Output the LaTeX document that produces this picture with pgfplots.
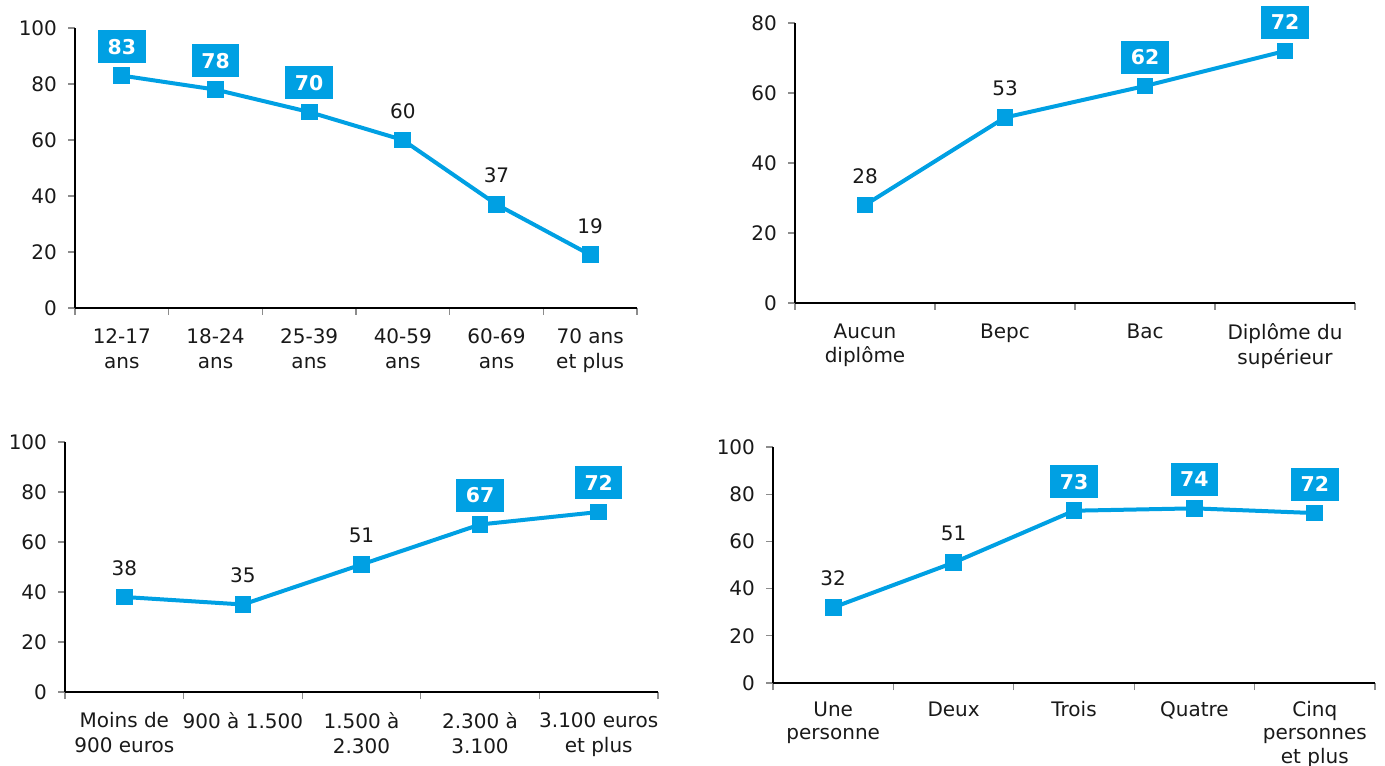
\documentclass[border=0pt]{standalone}
\usepackage{pgfplots}
\pgfplotsset{compat=1.18}
\usepackage{fontspec}
\setmainfont{DejaVu Sans}
\definecolor{cblue}{RGB}{0,160,227}
\definecolor{tickgray}{RGB}{140,140,140}
\definecolor{txt}{RGB}{25,25,25}

\pgfplotsset{
  panel/.style={
    scale only axis,
    anchor=south west,
    clip=false,
    axis x line=bottom, axis y line=left,
    axis line style={-, black, line width=0.6pt},
    /pgf/number format/assume math mode=true,
    xmin=0.5, xmax=#1+0.5, ymin=0,
    tick align=outside,
    major tick length=3.5pt,
    minor tick length=3.5pt,
    major x tick style={draw=none},
    minor x tick style={draw=tickgray, line width=0.6pt},
    y tick style={draw=tickgray, line width=0.6pt},
    minor xtick={0.5,1.5,...,#1.5},
    xtick={1,...,#1},
    ticklabel style={text=txt, font=\fontsize{10}{12.4}\selectfont},
    xticklabel style={align=center, anchor=north, yshift=-3.2pt},
    yticklabel style={anchor=east, xshift=-2pt},
  },
  serie/.style={cblue, line width=2pt, mark=square*, mark size=3.2pt, mark options={solid}},
  hi/.style={draw=none, mark=none, forget plot, nodes near coords,
    nodes near coords style={fill=cblue, text=white, font=\fontsize{10.2}{12}\bfseries, anchor=center, yshift=14.5pt,
      inner xsep=4.8pt, inner ysep=4.5pt, text height=7.5pt, text depth=0pt}},
  lo/.style={draw=none, mark=none, forget plot, nodes near coords,
    nodes near coords style={text=txt, font=\fontsize{10}{12}\selectfont, anchor=center, yshift=14.5pt, inner sep=0pt}},
}

\begin{document}
\begin{tikzpicture}
\useasboundingbox (0,0) rectangle (692.5pt,382.5pt);

% Panel 1: age
\begin{axis}[panel=6, at={(37.5pt,228.5pt)}, width=281pt, height=140pt, ymax=100,
  ytick={0,20,...,100},
  xticklabels={{12-17\\ans},{18-24\\ans},{25-39\\ans},{40-59\\ans},{60-69\\ans},{70 ans\\et plus}}]
\addplot[serie] coordinates {(1,83) (2,78) (3,70) (4,60) (5,37) (6,19)};
\addplot[hi] coordinates {(1,83) (2,78) (3,70)};
\addplot[lo] coordinates {(4,60) (5,37) (6,19)};
\end{axis}

% Panel 2: diplome
\begin{axis}[panel=4, at={(397.5pt,231pt)}, width=280pt, height=140pt, ymax=80,
  ytick={0,20,...,80},
  xticklabels={{Aucun\\diplôme},{Bepc},{Bac},{Diplôme du\\supérieur}}]
\addplot[serie] coordinates {(1,28) (2,53) (3,62) (4,72)};
\addplot[hi] coordinates {(3,62) (4,72)};
\addplot[lo] coordinates {(1,28) (2,53)};
\end{axis}

% Panel 3: revenu
\begin{axis}[panel=5, at={(32.5pt,36.5pt)}, width=296.5pt, height=125pt, ymax=100,
  ytick={0,20,...,100},
  xticklabels={{Moins de\\900 euros},{900 à 1.500},{1.500 à\\2.300},{2.300 à\\3.100},{3.100 euros\\et plus}}]
\addplot[serie] coordinates {(1,38) (2,35) (3,51) (4,67) (5,72)};
\addplot[hi] coordinates {(4,67) (5,72)};
\addplot[lo] coordinates {(1,38) (2,35) (3,51)};
\end{axis}

% Panel 4: foyer
\begin{axis}[panel=5, at={(386.5pt,41pt)}, width=301pt, height=118pt, ymax=100,
  ytick={0,20,...,100},
  xticklabel style={yshift=1pt, font=\fontsize{10}{11.6}\selectfont},
  xticklabels={{Une\\personne},{Deux},{Trois},{Quatre},{Cinq\\personnes\\et plus}}]
\addplot[serie] coordinates {(1,32) (2,51) (3,73) (4,74) (5,72)};
\addplot[hi] coordinates {(3,73) (4,74) (5,72)};
\addplot[lo] coordinates {(1,32) (2,51)};
\end{axis}
\end{tikzpicture}
\end{document}
